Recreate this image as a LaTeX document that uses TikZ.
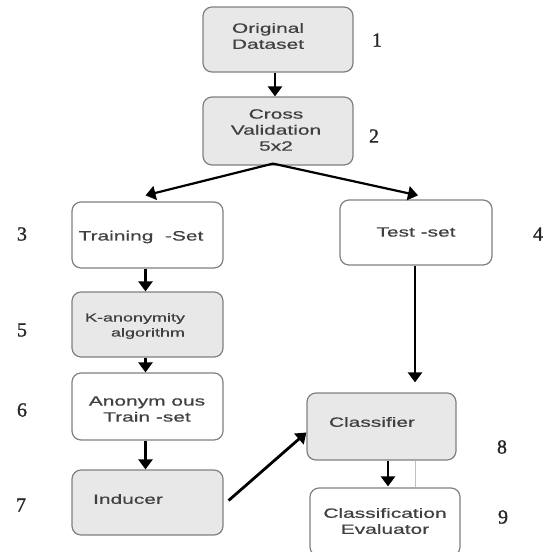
\documentclass[tikz,border=0pt]{standalone}
\usepackage{fontspec}
\newfontfamily\boxfont[FakeStretch=1.55,FakeBold=0.6]{Liberation Sans}
\newfontfamily\numfont[FakeBold=1.2]{Liberation Serif}
\usetikzlibrary{arrows.meta,calc}
\begin{document}
\begin{tikzpicture}[x=1pt,y=-1pt,
  box/.style={draw=black!50, line width=1.2pt, rounded corners=9pt, minimum width=150pt, minimum height=65pt, inner sep=0pt},
  gbox/.style={box, fill=black!9},
  wbox/.style={box, fill=white},
  txt/.style={text=black!75, font=\boxfont\fontsize{13.5}{16}\selectfont, align=center, inner sep=0pt},
  smalltxt/.style={txt, font=\boxfont\fontsize{11.6}{15}\selectfont, align=right},
  num/.style={text=black!85, font=\numfont\fontsize{20}{20}\selectfont, inner sep=0pt},
  arr/.style={-{Triangle[width=14pt,length=10pt]}, line width=2.8pt, black}
]
\useasboundingbox (0,0) rectangle (547,552);
% boxes
\node[gbox, minimum height=65pt] (b1) at (278,39.5) {};
\node[gbox, minimum height=68pt] (b2) at (278,131) {};
\node[wbox, minimum width=151pt, minimum height=66pt] (b3) at (147.5,235) {};
\node[wbox, minimum width=152pt, minimum height=65pt] (b4) at (416,232.5) {};
\node[gbox, minimum width=151pt, minimum height=65pt] (b5) at (147.5,324.5) {};
\node[wbox, minimum width=151pt, minimum height=67pt] (b6) at (147.5,406.5) {};
\node[gbox, minimum width=151pt, minimum height=65pt] (b7) at (147.5,502.5) {};
\node[gbox, minimum width=149pt, minimum height=67pt] (b8) at (381.5,426.5) {};
\node[wbox, minimum width=150pt, minimum height=68pt] (b9) at (385,522) {};
% texts
\node[txt] (t1) at (268,36) {Original\\Dataset};
\node[txt] (t2) at (276,130) {Cross\\Validation\\5x2};
\node[txt] (t3) at (141,237) {Training\ \ -Set};
\node[txt] (t4) at (416,232) {Test -set};
\node[smalltxt] (t5) at (135,326) {K-anonymity\\algorithm};
\node[txt] (t6) at (147,409) {Anonym ous\\Train -set};
\node[txt] (t7) at (128,499) {Inducer};
\node[txt] (t8) at (372,422) {Classifier};
\node[txt] (t9) at (385,521) {Classification\\Evaluator};
% numbers
\node[num] (n1) at (377,40) {1};
\node[num] (n2) at (374,136) {2};
\node[num] (n3) at (22,234) {3};
\node[num] (n4) at (538,234) {4};
\node[num] (n5) at (22,330) {5};
\node[num] (n6) at (22,410) {6};
\node[num] (n7) at (21,505) {7};
\node[num] (n8) at (502,447) {8};
\node[num] (n9) at (503,517) {9};
% connectors
\coordinate (c2) at ($(b2.south)+(-5,-2)$);
\draw[arr] ($(b1.south)+(-3,0)$) -- ($(b2.north)+(-3,0)$);
\draw[arr, line width=2.2pt] (c2) -- ($(b3.north)+(-2,-6)$);
\draw[arr, line width=2.2pt] (c2) -- ($(b4.north)+(2,-4)$);
\draw[arr] ($(b3.south)+(-2,0)$) -- ($(b5.north)+(-2,0)$);
\draw[arr] ($(b5.south)+(-2,0)$) -- ($(b6.north)+(-2,0)$);
\draw[arr] ($(b6.south)+(-2,0)$) -- ($(b7.north)+(-2,0)$);
\draw[arr] ($(b4.south)+(-1,0)$) -- ($(b8.north)+(33.5,-10)$);
\draw[arr] ($(b7.east)+(5,-2)$) -- ($(b8.west)+(0,6)$);
\draw[arr] ($(b8.south)+(6.5,0)$) -- ($(b9.north)+(3,-1)$);
\draw[black!25, line width=0.8pt] ($(b8.south)+(33.5,0)$) -- ($(b9.north)+(30,0)$);
\end{tikzpicture}
\end{document}
